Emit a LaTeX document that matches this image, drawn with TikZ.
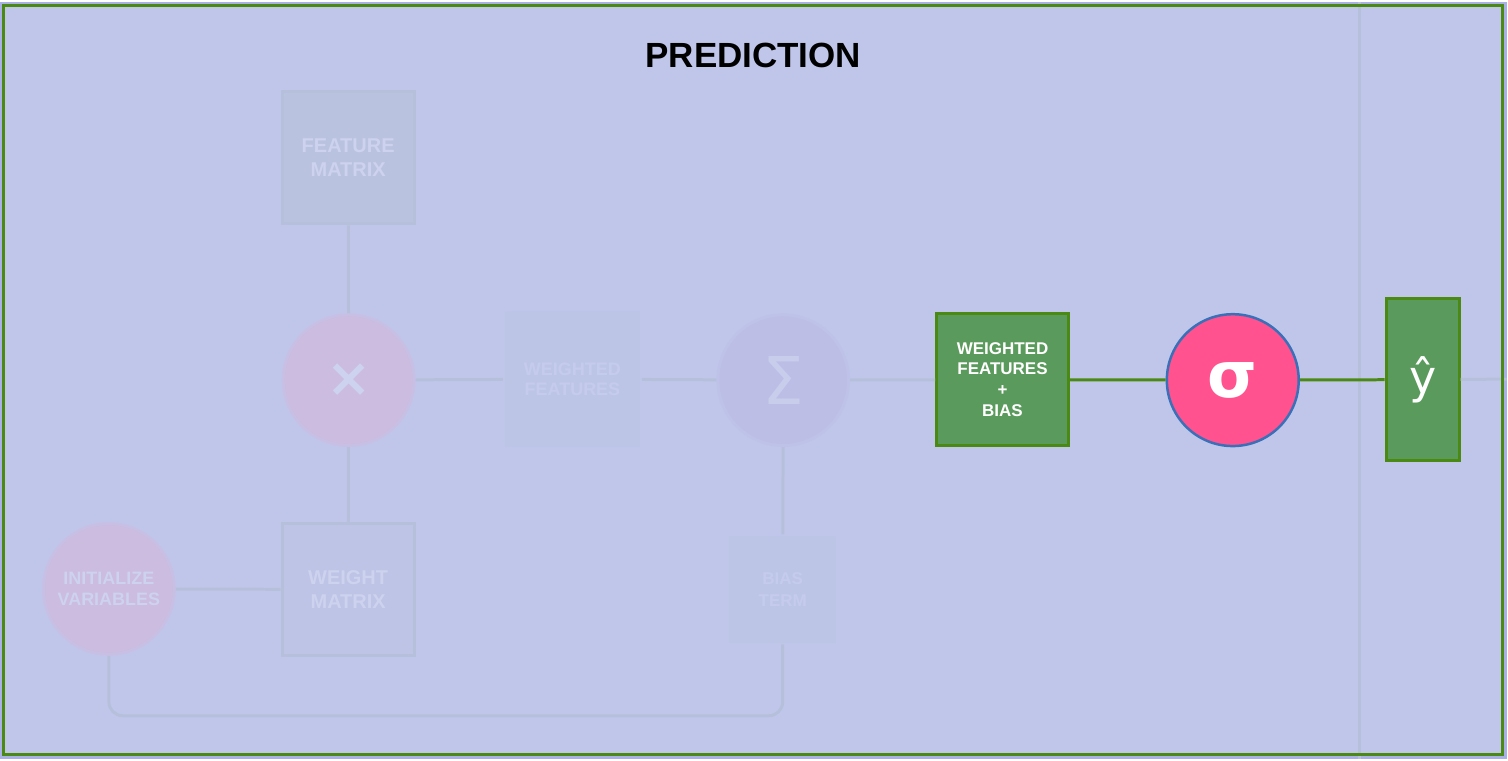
\documentclass[tikz,border=0pt]{standalone}
\usepackage{fontspec}
\setmainfont{Liberation Sans}
\newfontfamily\symfont{DejaVu Sans}
\definecolor{pagebg}{HTML}{A8B0E6}
\definecolor{panelbg}{HTML}{C0C6EA}
\definecolor{framegreen}{HTML}{4B8A12}
\definecolor{boxgreen}{HTML}{5A9A5C}
\definecolor{sigpink}{HTML}{FF528E}
\definecolor{sigblue}{HTML}{3A70B8}
\definecolor{fadeline}{HTML}{B6C0DA}
\definecolor{fadetext}{HTML}{CDD2EE}
\definecolor{fadepink}{HTML}{CBBCE0}
\definecolor{fadesum}{HTML}{BDBEE6}
\tikzset{
  fadebox/.style={draw=fadeline, line width=3pt, fill=#1, minimum size=132pt,
    text=fadetext, font=\fontsize{20}{24}\selectfont\bfseries, align=center},
  fadecirc/.style={circle, draw=#1!60!panelbg, line width=3pt, fill=#1,
    minimum size=131pt, text=fadetext, align=center},
  fadelink/.style={draw=fadeline, line width=3pt},
  greenlink/.style={draw=framegreen, line width=3pt},
  greenbox/.style={draw=framegreen, line width=3pt, fill=boxgreen, text=white, align=center}
}
\begin{document}
\begin{tikzpicture}[x=1pt,y=-1pt]
\fill[pagebg] (0,0) rectangle (1508,758);
\fill[panelbg] (4,4) rectangle (1504,754);
\draw[fadelink] (1361,0) -- (1361,758);
\node[font=\fontsize{35}{40}\selectfont\bfseries] (title) at (754,54) {PREDICTION};

% faded part of the pipeline
\node[fadebox=fadeline!70!panelbg] (feat) at (348.5,156.5) {FEATURE\\MATRIX};
\node[fadecirc=fadepink, font=\symfont\fontsize{54}{54}\selectfont\bfseries] (mult) at (349,379) {×};
\node[fadebox=fadeline!30!panelbg] (weight) at (348.5,588.5) {WEIGHT\\MATRIX};
\node[fadecirc=fadepink, font=\fontsize{18}{21}\selectfont\bfseries] (init) at (109,588) {INITIALIZE\\VARIABLES};
\node[fadebox=fadeline!25!panelbg, draw=none, minimum size=136pt, font=\fontsize{18}{20}\selectfont\bfseries,
  text=fadetext!40!panelbg] (wf) at (573,378) {WEIGHTED\\FEATURES};
\node[fadecirc=fadesum, draw=fadesum!50!panelbg, font=\symfont\fontsize{66}{66}\selectfont,
  text=fadetext!60!panelbg] (sum) at (784,379) {Σ};
\node[fadebox=fadeline!25!panelbg, draw=none, minimum size=107pt, font=\fontsize{17}{22}\selectfont\bfseries,
  text=fadetext!40!panelbg] (bias) at (783.5,588.5) {BIAS\\TERM};
\coordinate (loop) at (109,715);
\coordinate (out) at (1508,378);

\draw[fadelink] (feat) -- (mult);
\draw[fadelink] (mult) -- (weight);
\draw[fadelink] (init) -- (weight);
\draw[fadelink] (mult) -- (wf);
\draw[fadelink] (wf) -- (sum);
\draw[fadelink] (sum) -- (bias);
\draw[fadelink, rounded corners=14pt] (init.south) -- (loop) -| (bias.south);

% active part
\node[greenbox, minimum size=132pt, font=\fontsize{17}{21}\selectfont\bfseries] (wfb) at (1003.5,378.5)
  {WEIGHTED\\FEATURES\\+\\BIAS};
\node[circle, draw=sigblue, line width=2.5pt, fill=sigpink, minimum size=132pt, text=white,
  font=\symfont\fontsize{64}{64}\selectfont\bfseries] (sig) at (1234,379) {σ};
\node[greenbox, minimum width=73pt, minimum height=162pt, font=\symfont\fontsize{46}{46}\selectfont] (yhat) at (1424,378.5) {ŷ};

\draw[fadelink] (sum) -- (wfb);
\draw[greenlink] (wfb) -- (sig);
\draw[greenlink] (sig) -- (yhat);
\draw[fadelink] (yhat) -- (out);
\draw[framegreen, line width=3pt] (4,4) rectangle (1504,754);
\end{tikzpicture}
\end{document}
